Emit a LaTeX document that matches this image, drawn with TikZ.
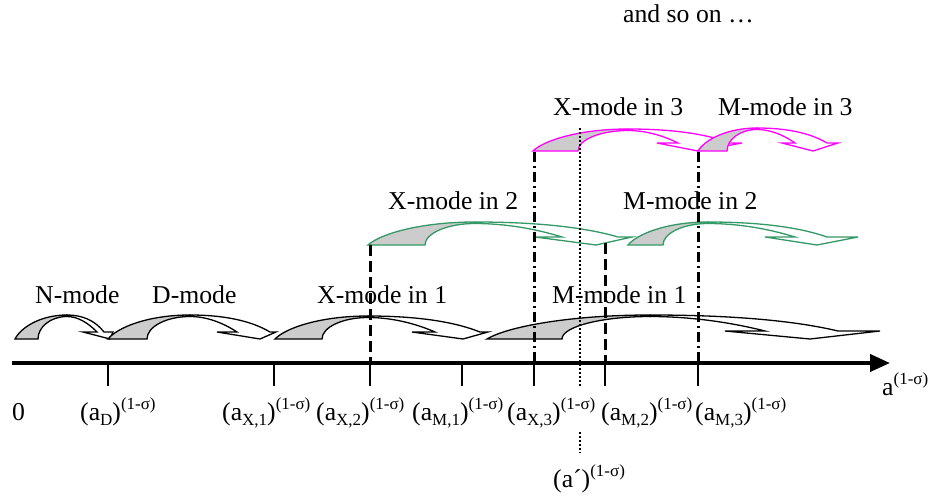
\documentclass[tikz,border=0pt]{standalone}
\usepackage{fontspec}
\setmainfont{Liberation Serif}
\usetikzlibrary{arrows.meta}
\definecolor{seagreen}{HTML}{339966}
\definecolor{magen}{HTML}{FF00FF}
\definecolor{shade}{HTML}{CCCCCC}

\pgfkeys{/ca/col/.store in=\caC, /ca/x0/.store in=\caX, /ca/gb/.store in=\caG,
 /ca/xp/.store in=\caP, /ca/top/.store in=\caT, /ca/base/.store in=\caB,
 /ca/lb/.store in=\caL, /ca/n/.store in=\caN, /ca/tip/.store in=\caTip,
 /ca/on/.store in=\caO, /ca/rb/.store in=\caR, /ca/yb/.store in=\caY}

\newcommand\curvedarrow[1]{%
 \pgfkeys{/ca/.cd,#1}%
 \filldraw[arrline, draw=\caC, fill=shade]
   (\caX,\caB) .. controls ({\caX+0.12*(\caP-\caX)},{\caB-0.5*(\caB-\caT)}) and ({\caP-0.5*(\caP-\caX)},\caT) .. (\caP,\caT)
   -- (\caP,{\caT+1.5})
   .. controls ({\caP-0.55*(\caP-\caG)},{\caT+1.5}) and (\caG,{\caB-0.55*(\caB-\caT-1.5)}) .. (\caG,\caB) -- cycle;
 \filldraw[arrline, draw=\caC, fill=white]
   (\caP,\caT) .. controls ({\caP+0.4*(\caO-\caP)},\caT) and ({\caO-0.25*(\caO-\caP)},{\caT+0.3*(\caY-\caT)}) .. (\caO,\caY)
   -- (\caR,\caY) -- (\caTip,\caB) -- (\caL,\caY) -- (\caN,\caY)
   .. controls ({\caN-0.3*(\caN-\caP)},{\caY-0.6*(\caY-\caT-1.5)}) and ({\caP+0.35*(\caN-\caP)},{\caT+1.5}) .. (\caP,{\caT+1.5}) -- cycle;
}
\newcommand\supx[1]{\raisebox{11pt}{\fontsize{17}{17}\selectfont #1}}
\newcommand\subx[1]{\raisebox{-5pt}{\fontsize{17}{17}\selectfont #1}}

\tikzset{
 arrline/.style={line width=1.3pt, line join=miter},
 modelabel/.style={anchor=base west, inner sep=0pt, font=\fontsize{25.7}{30}\selectfont},
 axislabel/.style={anchor=base west, inner sep=0pt, font=\fontsize{25.7}{30}\selectfont},
 tickline/.style={line width=1.2pt},
 vdash/.style={line width=3pt, dash pattern=on 11pt off 5pt},
 vdashdot/.style={line width=3pt, dash pattern=on 10pt off 4pt on 2pt off 4pt},
 vdot/.style={line width=2.6pt, dash pattern=on 2pt off 2pt},
 axisline/.style={line width=4pt, -{Triangle[length=20pt,width=17pt]}}
}

\begin{document}
\begin{tikzpicture}[x=1pt,y=-1pt]
\fill[white] (0,0) rectangle (930,498);
\useasboundingbox (0,0) rectangle (930,498);

% level 1 (black)
\curvedarrow{col=black, x0=15, gb=38, xp=67, top=315, base=339, lb=83, n=97, tip=110, on=104, rb=113, yb=332}
\curvedarrow{col=black, x0=108, gb=147, xp=190, top=315, base=339, lb=217, n=237, tip=260, on=270, rb=276, yb=332}
\curvedarrow{col=black, x0=275, gb=322, xp=368, top=316, base=339, lb=412, n=435, tip=463, on=480, rb=488, yb=332}
\curvedarrow{col=black, x0=487, gb=562, xp=650, top=315, base=339, lb=725, n=765, tip=810, on=838, rb=880, yb=331}
% level 2 (green)
\curvedarrow{col=seagreen, x0=368, gb=425, xp=475, top=222, base=245, lb=535, n=562, tip=596, on=618, rb=632, yb=237}
\curvedarrow{col=seagreen, x0=628, gb=663, xp=708, top=222, base=245, lb=765, n=795, tip=817, on=827, rb=858, yb=237}
% level 3 (magenta)
\curvedarrow{col=magen, x0=533, gb=578, xp=628, top=129, base=151, lb=657, n=678, tip=698, on=730, rb=742, yb=143}
\curvedarrow{col=magen, x0=698, gb=727, xp=757, top=128, base=151, lb=782, n=795, tip=813, on=827, rb=838, yb=143}

% mode labels
\node[modelabel] (lN) at (35,303) {N-mode};
\node[modelabel] (lD) at (152,303) {D-mode};
\node[modelabel] (lX1) at (317,303) {X-mode in 1};
\node[modelabel] (lM1) at (552,303) {M-mode in 1};
\node[modelabel] (lX2) at (388,209) {X-mode in 2};
\node[modelabel] (lM2) at (623,209) {M-mode in 2};
\node[modelabel] (lX3) at (553,115) {X-mode in 3};
\node[modelabel] (lM3) at (718,115) {M-mode in 3};
\node[modelabel] (lso) at (623,22) {and so on …};

% axis coordinates
\coordinate (ax0) at (12,363);
\coordinate (ax1) at (890,363);
\foreach \nm/\xx in {tD/108, tX1/274, tX2/370, tM1/462, tX3/534, tM2/605, tM3/698}{
  \coordinate (\nm) at (\xx,363);
  \coordinate (\nm b) at (\xx,386);
}
\coordinate (vX2) at (370,245);
\coordinate (vX3) at (534,152);
\coordinate (vM2) at (605,243);
\coordinate (vM3) at (698,152);
\coordinate (pTop) at (580,128);
\coordinate (pBot) at (580,387);
\coordinate (pLow1) at (580,432);
\coordinate (pLow2) at (580,453);

% vertical lines
\draw[vdash] (vX2) -- (tX2);
\draw[vdash] (vM2) -- (tM2);
\draw[vdashdot] (vX3) -- (tX3);
\draw[vdashdot] (vM3) -- (tM3);
\draw[vdot] (pTop) -- (pBot);
\draw[vdot] (pLow1) -- (pLow2);

% ticks
\foreach \nm in {tD, tX1, tX2, tM1, tX3, tM2, tM3}{
  \draw[tickline] (\nm) -- (\nm b);
}
% axis
\draw[axisline] (ax0) -- (ax1);

% axis labels
\node[axislabel] (l0) at (12,420) {0};
\node[axislabel] (laD) at (80,420) {(a\subx{D})\supx{(1-σ)}};
\node[axislabel] (laX1) at (222,420) {(a\subx{X,1})\supx{(1-σ)}};
\node[axislabel] (laX2) at (316,420) {(a\subx{X,2})\supx{(1-σ)}};
\node[axislabel] (laM1) at (412,420) {(a\subx{M,1})\supx{(1-σ)}};
\node[axislabel] (laX3) at (507,420) {(a\subx{X,3})\supx{(1-σ)}};
\node[axislabel] (laM2) at (601,420) {(a\subx{M,2})\supx{(1-σ)}};
\node[axislabel] (laM3) at (695,420) {(a\subx{M,3})\supx{(1-σ)}};
\node[axislabel] (lap) at (553,487) {(a´)\supx{(1-σ)}};
\node[axislabel] (lax) at (882,395) {a\supx{(1-σ)}};
\end{tikzpicture}
\end{document}
